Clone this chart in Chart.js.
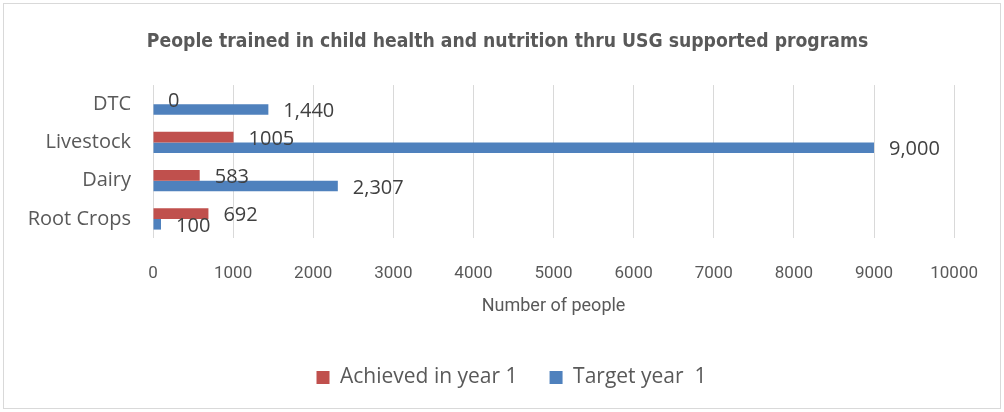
<!DOCTYPE html>
<html>
<head>
<meta charset="utf-8">
<script src="https://cdn.jsdelivr.net/npm/chart.js@4"></script>
<style>
  html, body { margin: 0; padding: 0; background: #fff; }
  #wrap { width: 1004px; height: 412px; }
</style>
</head>
<body>
<div id="wrap"><canvas id="chart"></canvas></div>
<script>
const categories = ['DTC', 'Livestock', 'Dairy', 'Root Crops'];
const achieved = [0, 1005, 583, 692];
const target = [1440, 9000, 2307, 100];
const xTicks = [0, 1000, 2000, 3000, 4000, 5000, 6000, 7000, 8000, 9000, 10000];

const textColor = '#595959';

// draws values next to each bar end, like Excel data labels
const barLabels = {
  id: 'barLabels',
  afterDatasetsDraw(chart) {
    const ctx = chart.ctx;
    ctx.save();
    ctx.font = '20px "Open Sans"';
    ctx.fillStyle = '#404040';
    ctx.textBaseline = 'middle';
    ctx.textAlign = 'left';
    chart.data.datasets.forEach((ds, i) => {
      chart.getDatasetMeta(i).data.forEach((bar, j) => {
        const v = ds.data[j];
        const txt = ds.commas ? v.toLocaleString('en-US') : String(v);
        ctx.fillText(txt, bar.x + 15, bar.y + 2);
      });
    });
    ctx.restore();
  }
};

// outer border + nudge title/legend a bit right like the original
const frame = {
  id: 'frame',
  afterLayout(chart) {
    if (chart.titleBlock) { chart.titleBlock.left += 14; chart.titleBlock.right += 14; }
    if (chart.legend) { chart.legend.left += 18; chart.legend.right += 18; }
  },
  beforeDraw(chart) {
    const ctx = chart.ctx;
    ctx.save();
    ctx.strokeStyle = '#d9d9d9';
    ctx.lineWidth = 1;
    ctx.strokeRect(3.5, 3.5, chart.width - 7, chart.height - 7);
    ctx.restore();
  }
};

new Chart(document.getElementById('chart'), {
  type: 'bar',
  data: {
    labels: categories,
    datasets: [
      { label: 'Achieved in year 1', data: achieved, backgroundColor: '#C0504D', commas: false },
      { label: 'Target year  1', data: target, backgroundColor: '#4F81BD', commas: true }
    ]
  },
  options: {
    indexAxis: 'y',
    responsive: true,
    maintainAspectRatio: false,
    animation: false,
    layout: { padding: { top: 20, right: 27, bottom: 14, left: 10 } },
    datasets: { bar: { categoryPercentage: 0.56, barPercentage: 1.0 } },
    scales: {
      x: {
        min: 0,
        max: 10000,
        afterBuildTicks: s => { s.ticks = xTicks.map(v => ({ value: v })); },
        grid: { color: '#d9d9d9', drawTicks: false },
        border: { display: false },
        ticks: {
          color: textColor,
          padding: 26,
          callback: v => String(v),
          font: { family: 'Roboto', size: 17 }
        },
        title: {
          display: true,
          text: 'Number of people',
          color: textColor,
          padding: { top: -15, bottom: 18 },
          font: { family: 'Roboto', size: 18 }
        }
      },
      y: {
        grid: { display: false },
        border: { display: false },
        afterFit: s => { s.width = 143; },
        ticks: { color: textColor, padding: 14, font: { family: '"Open Sans"', size: 20 } }
      }
    },
    plugins: {
      title: {
        display: true,
        text: 'People trained in child health and nutrition thru USG supported programs',
        color: textColor,
        padding: { top: 10, bottom: 32 },
        font: { family: '"DejaVu Sans Condensed"', size: 19.2, weight: 'bold' }
      },
      legend: {
        position: 'bottom',
        labels: {
          color: textColor,
          boxWidth: 13,
          boxHeight: 13,
          padding: 32,
          font: { family: '"Open Sans"', size: 21 }
        }
      },
      tooltip: { enabled: false }
    }
  },
  plugins: [barLabels, frame]
});
</script>
</body>
</html>
